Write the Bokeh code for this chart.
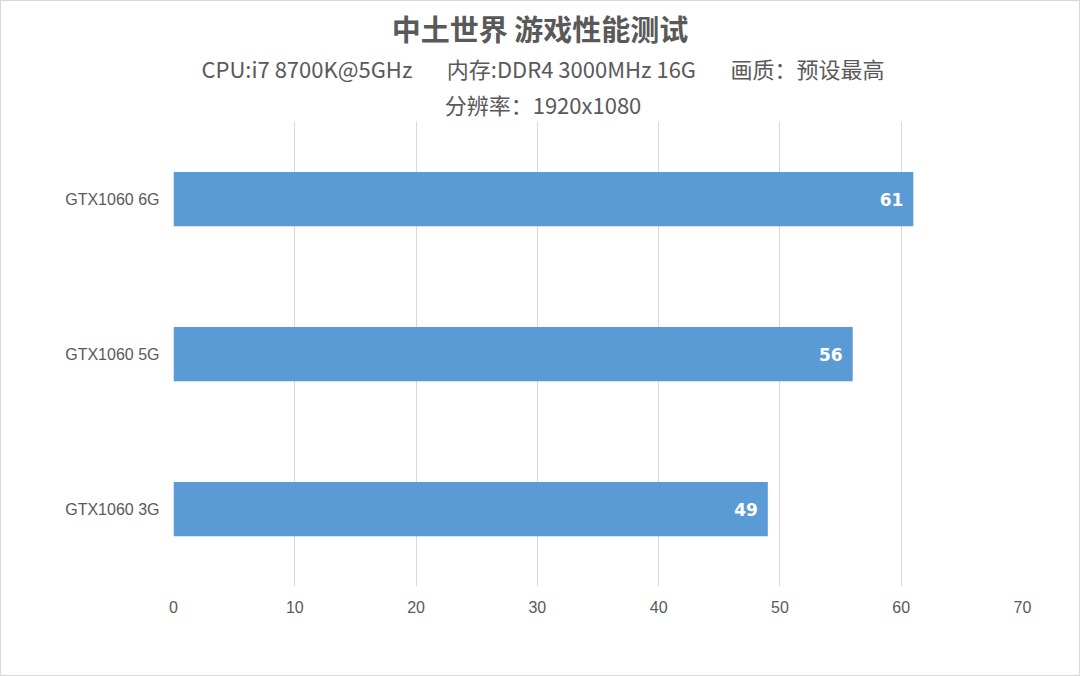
from bokeh.plotting import figure
from bokeh.models import ColumnDataSource, Title, FixedTicker, LabelSet
from bokeh.core.properties import value
from bokeh.embed import file_html
from bokeh.resources import INLINE

categories = ["GTX1060 3G", "GTX1060 5G", "GTX1060 6G"]
fps = [49, 56, 61]
x_ticks = [0, 10, 20, 30, 40, 50, 60, 70]

title_text = "中土世界 游戏性能测试"
sp = "\u00a0" * 7
sub1 = "CPU:i7 8700K@5GHz" + sp + "内存:DDR4 3000MHz 16G" + sp + "画质：预设最高"
sub2 = "分辨率：1920x1080"

src = ColumnDataSource(dict(cat=categories, fps=fps, lab=[str(v) for v in fps]))

W, H = 1080, 676
LEFT, RIGHT, TOP, BOTTOM = 172, 59, 120, 91

p = figure(width=W, height=H, y_range=categories, x_range=(0, 70),
           output_backend="svg", toolbar_location=None,
           min_border_left=LEFT, min_border_right=RIGHT, min_border_bottom=BOTTOM,
           min_border_top=TOP)
p.title = None

# trailing ideographic spaces re-centre the titles over the whole canvas
pad_sub = "\u3000" * 5
pad_title = "\u3000" * 4

cjk = "Noto Sans CJK SC"
p.add_layout(Title(text=sub2 + pad_sub, align="center", text_font=cjk, text_font_size="22px",
                   text_font_style="normal", text_color="#595959", standoff=4), "above")
p.add_layout(Title(text=sub1 + pad_sub, align="center", text_font=cjk, text_font_size="22px",
                   text_font_style="normal", text_color="#595959", standoff=0), "above")
p.add_layout(Title(text=title_text + pad_title, align="center", text_font=cjk,
                   text_font_size="29px", text_font_style="bold", text_color="#595959",
                   standoff=2), "above")

p.hbar(y="cat", right="fps", left=0, height=0.35, source=src,
       fill_color="#5B9BD5", line_color=None)

labels = LabelSet(x="fps", y="cat", text="lab", source=src, x_offset=-10,
                  text_align="right", text_baseline="middle", text_color="white",
                  text_font=value("DejaVu Sans"), text_font_style="bold", text_font_size="17px")
p.add_layout(labels)

p.xaxis.ticker = FixedTicker(ticks=x_ticks)
p.xaxis.axis_line_color = None
p.xaxis.major_tick_line_color = None
p.xaxis.minor_tick_line_color = None
p.xaxis.major_label_text_font = "Liberation Sans"
p.xaxis.major_label_text_font_size = "16px"
p.xaxis.major_label_text_color = "#595959"
p.xaxis.major_label_standoff = 8

p.yaxis.axis_line_color = None
p.yaxis.major_tick_line_color = None
p.yaxis.minor_tick_line_color = None
p.yaxis.major_label_text_font = "Liberation Sans"
p.yaxis.major_label_text_font_size = "16px"
p.yaxis.major_label_text_color = "#595959"
p.yaxis.major_label_standoff = 8

p.xgrid.grid_line_color = "#d9d9d9"
p.ygrid.grid_line_color = None
p.outline_line_color = None
p.y_range.range_padding = 0
p.styles = {"border": "1px solid #d9d9d9", "box-sizing": "border-box"}

open("out.html", "w").write(file_html(p, INLINE))
